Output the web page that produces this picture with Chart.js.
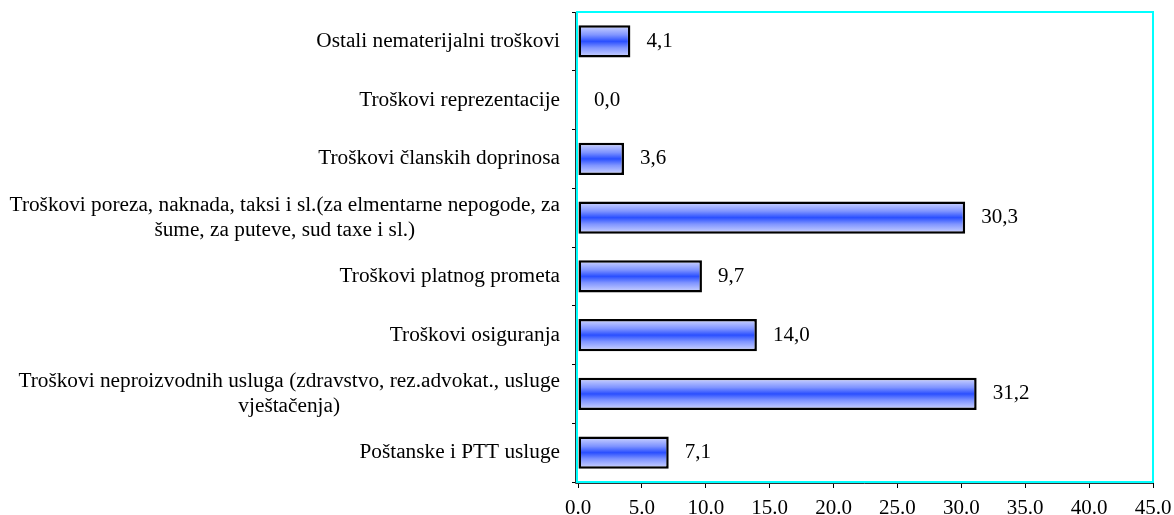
<!DOCTYPE html>
<html>
<head>
<meta charset="utf-8">
<script src="https://cdn.jsdelivr.net/npm/chart.js@4/dist/chart.umd.min.js"></script>
<style>
  html, body { margin: 0; padding: 0; background: #fff; }
</style>
</head>
<body>
<canvas id="costChart" width="1174" height="515"></canvas>
<script>
// chart data (top to bottom)
const categories = [
    ["Ostali nematerijalni troškovi"],
    ["Troškovi reprezentacije"],
    ["Troškovi članskih doprinosa"],
    ["Troškovi poreza, naknada, taksi i sl.(za elmentarne nepogode, za", "šume, za puteve, sud taxe i sl.)"],
    ["Troškovi platnog prometa"],
    ["Troškovi osiguranja"],
    ["Troškovi neproizvodnih usluga (zdravstvo, rez.advokat., usluge ", "vještačenja)"],
    ["Poštanske i PTT usluge"]
];
const values = [4.1, 0.0, 3.6, 30.3, 9.7, 14.0, 31.2, 7.1];
const xMin = 0;
const xMax = 45;
const xStep = 5;

const FONT = "'Liberation Serif', 'Times New Roman', serif";
const barPct = 0.545;

Chart.defaults.font.family = FONT;
Chart.defaults.font.size = 21;
Chart.defaults.color = '#000';

// bar gradient: light edges, strong blue in the middle
function barGradient(c) {
    const ys = c.chart.scales.y;
    if (!ys || !ys.height) return '#3355ff';
    const yc = ys.getPixelForValue(c.dataIndex);
    const h = ys.height / categories.length * barPct / 2;
    const g = c.chart.ctx.createLinearGradient(0, yc - h, 0, yc + h);
    g.addColorStop(0, '#d2d8ff');
    g.addColorStop(0.3, '#7f94ff');
    g.addColorStop(0.5, '#2a4fff');
    g.addColorStop(0.7, '#7f94ff');
    g.addColorStop(1, '#d2d8ff');
    return g;
}

// plot frame: cyan box + dark axis lines
const framePlugin = {
    id: 'frame',
    beforeDatasetsDraw(chart) {
        const { ctx, chartArea: a } = chart;
        ctx.save();
        ctx.strokeStyle = '#00ffff';
        ctx.lineWidth = 2;
        ctx.strokeRect(a.left - 1, a.top, a.right - a.left + 1, a.bottom - a.top);
        ctx.strokeStyle = '#333';
        ctx.lineWidth = 1;
        ctx.beginPath();
        ctx.moveTo(a.left - 2.5, a.top);
        ctx.lineTo(a.left - 2.5, a.bottom + 1.5);
        ctx.lineTo(a.right, a.bottom + 1.5);
        ctx.stroke();
        ctx.restore();
    }
};

// category labels: single lines right aligned, wrapped lines centered
const labelPlugin = {
    id: 'catLabels',
    afterDraw(chart) {
        const { ctx } = chart;
        const ys = chart.scales.y;
        const right = chart.chartArea.left - 18;
        const lh = 25;
        ctx.save();
        ctx.font = '21.3px ' + FONT;
        ctx.fillStyle = '#000';
        ctx.textAlign = 'center';
        ctx.textBaseline = 'middle';
        categories.forEach((lines, i) => {
            const ty = ys.getPixelForTick(i);
            const w = Math.max(...lines.map(l => ctx.measureText(l.trimEnd()).width));
            const cx = right - w / 2;
            lines.forEach((l, k) => {
                ctx.fillText(l.trimEnd(), cx, ty + (k - (lines.length - 1) / 2) * lh);
            });
        });
        ctx.restore();
    }
};

// value labels next to bars
const valuePlugin = {
    id: 'valueLabels',
    afterDatasetsDraw(chart) {
        const { ctx } = chart;
        const meta = chart.getDatasetMeta(0);
        ctx.save();
        ctx.font = '21px ' + FONT;
        ctx.fillStyle = '#000';
        ctx.textAlign = 'left';
        ctx.textBaseline = 'middle';
        meta.data.forEach((bar, i) => {
            ctx.fillText(values[i].toFixed(1).replace('.', ','), bar.x + 16, bar.y);
        });
        ctx.restore();
    }
};

new Chart(document.getElementById('costChart'), {
    type: 'bar',
    data: {
        labels: categories,
        datasets: [{
            data: values,
            backgroundColor: barGradient,
            borderColor: '#000',
            borderWidth: 2.5,
            borderSkipped: false,
            barPercentage: barPct,
            categoryPercentage: 1
        }]
    },
    options: {
        indexAxis: 'y',
        responsive: false,
        animation: false,
        layout: { padding: { left: 0, right: 21, top: 12, bottom: 0 } },
        plugins: {
            legend: { display: false },
            tooltip: { enabled: false }
        },
        scales: {
            x: {
                type: 'linear',
                min: xMin,
                max: xMax,
                ticks: {
                    stepSize: xStep,
                    padding: 8,
                    maxRotation: 0,
                    autoSkip: false,
                    callback: v => v.toFixed(1)
                },
                grid: { drawOnChartArea: false, tickLength: 6, color: '#000' },
                border: { display: false },
                afterFit: s => { s.height = 33; s.paddingLeft = 0; s.paddingRight = 0; }
            },
            y: {
                type: 'category',
                ticks: { display: false },
                grid: { offset: true, drawOnChartArea: false, tickLength: 6, color: '#000' },
                border: { display: false },
                afterFit: s => { s.width = 578; s.paddingTop = 0; s.paddingBottom = 0; }
            }
        }
    },
    plugins: [framePlugin, labelPlugin, valuePlugin]
});
</script>
</body>
</html>
